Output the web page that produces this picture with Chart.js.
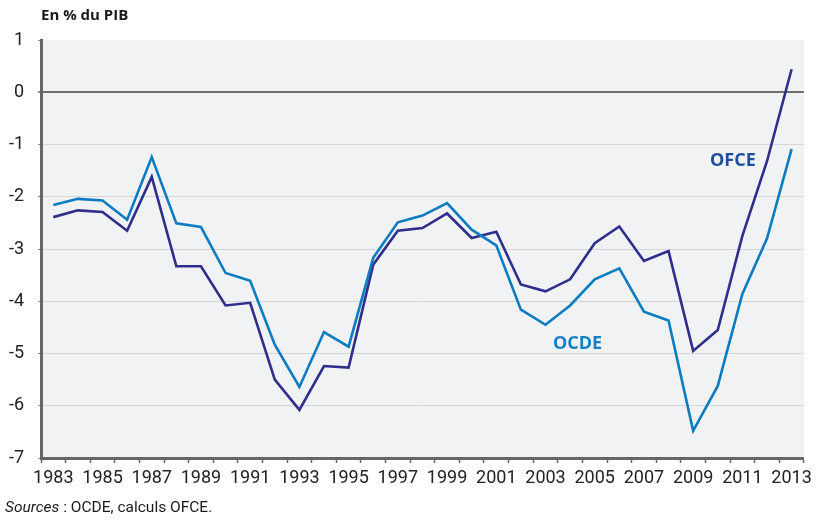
<!DOCTYPE html>
<html>
<head>
<meta charset="utf-8">
<script src="https://cdn.jsdelivr.net/npm/chart.js@4/dist/chart.umd.min.js"></script>
<style>
  html, body { margin: 0; padding: 0; background: #ffffff; }
  #wrap { position: relative; width: 817px; height: 520px; overflow: hidden; }
  #c { position: absolute; left: 0; top: 0; }
  .txt { position: absolute; white-space: nowrap; }
  #title { left: 41px; top: 4px; font: 700 15px 'Open Sans', sans-serif; color: #1a1a1a; }
  #source { left: 5px; top: 498px; font: 400 15.5px Roboto, sans-serif; color: #1a1a1a; }
  .lab { font: 700 18px 'Open Sans', sans-serif; line-height: 18px; }
  #labOFCE { left: 710px; top: 150px; color: #1b4f9c; }
  #labOCDE { left: 553px; top: 333px; color: #1580c5; }
</style>
</head>
<body>
<div id="wrap">
  <canvas id="c" width="817" height="520"></canvas>
  <div class="txt" id="title">En % du PIB</div>
  <div class="txt" id="source"><i>Sources</i> : OCDE, calculs OFCE.</div>
  <div class="txt lab" id="labOFCE">OFCE</div>
  <div class="txt lab" id="labOCDE">OCDE</div>
</div>
<script>
const years = ['1983','1984','1985','1986','1987','1988','1989','1990','1991','1992','1993','1994','1995','1996','1997','1998','1999','2000','2001','2002','2003','2004','2005','2006','2007','2008','2009','2010','2011','2012','2013'];
const ocde = [-2.16, -2.04, -2.07, -2.44, -1.24, -2.51, -2.58, -3.46, -3.61, -4.83, -5.64, -4.59, -4.87, -3.17, -2.49, -2.36, -2.12, -2.63, -2.93, -4.16, -4.45, -4.08, -3.58, -3.37, -4.20, -4.37, -6.48, -5.62, -3.86, -2.80, -1.09];
const ofce = [-2.39, -2.26, -2.29, -2.65, -1.62, -3.33, -3.33, -4.08, -4.03, -5.50, -6.08, -5.24, -5.27, -3.30, -2.65, -2.60, -2.32, -2.79, -2.67, -3.68, -3.81, -3.58, -2.89, -2.57, -3.23, -3.04, -4.95, -4.55, -2.75, -1.32, 0.44];
const yMin = -7, yMax = 1;

const bgPlugin = {
  id: 'bg',
  beforeDraw(chart) {
    const a = chart.chartArea, ctx = chart.ctx;
    ctx.save();
    ctx.fillStyle = '#f1f2f4';
    ctx.fillRect(a.left, a.top, a.right - a.left, a.bottom - a.top);
    ctx.restore();
  }
};

new Chart(document.getElementById('c'), {
  type: 'line',
  data: {
    labels: years,
    datasets: [
      { label: 'OCDE', data: ocde, borderColor: '#0a7cc1', borderWidth: 2.6, pointRadius: 0, tension: 0, fill: false },
      { label: 'OFCE', data: ofce, borderColor: '#2e2f8c', borderWidth: 2.6, pointRadius: 0, tension: 0, fill: false }
    ]
  },
  options: {
    responsive: false,
    animation: false,
    events: [],
    layout: { padding: { top: 40, right: 11, left: 0, bottom: 0 }, autoPadding: false },
    plugins: { legend: { display: false }, tooltip: { enabled: false }, title: { display: false } },
    scales: {
      x: {
        type: 'category',
        offset: true,
        afterFit(s) { s.height = 62; },
        border: { display: true, color: '#666666', width: 3 },
        grid: { offset: true, drawOnChartArea: false, drawTicks: true, tickLength: 5, tickColor: '#666666', tickWidth: 1.5 },
        ticks: {
          autoSkip: false, maxRotation: 0, minRotation: 0, padding: 5,
          color: '#222222', font: { family: 'Roboto', size: 18 },
          callback(v, i) { return i % 2 === 0 ? years[i] : ''; }
        }
      },
      y: {
        min: yMin, max: yMax,
        afterFit(s) { s.width = 41; },
        border: { display: true, color: '#666666', width: 3 },
        grid: {
          drawTicks: true, tickLength: 3,
          tickColor: '#888888',
          color(ctx) { const v = ctx.tick ? ctx.tick.value : null; if (v === 0) return '#6e6e6e'; if (v === yMax) return 'rgba(0,0,0,0)'; return '#d6d6d9'; },
          lineWidth(ctx) { return ctx.tick && ctx.tick.value === 0 ? 2 : 1; }
        },
        ticks: { stepSize: 1, padding: 14, color: '#222222', font: { family: 'Roboto', size: 18 } }
      }
    }
  },
  plugins: [bgPlugin]
});
</script>
</body>
</html>
